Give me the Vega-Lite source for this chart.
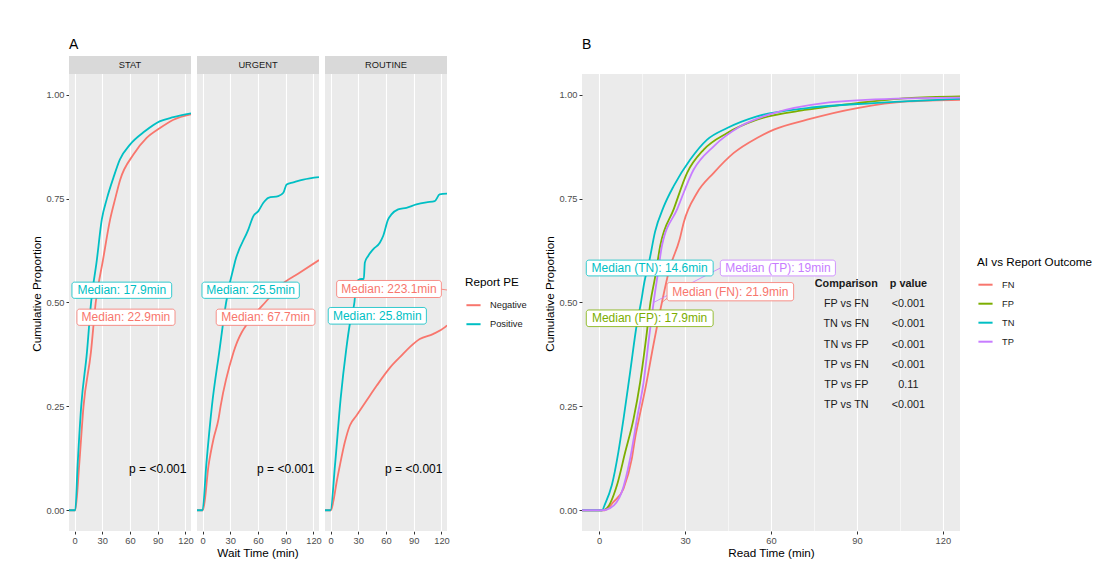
{
"$schema":"https://vega.github.io/schema/vega-lite/v6.json",
"padding":{"left":31,"top":38,"right":5,"bottom":5},
"background":"white",
"config":{
 "font":"Liberation Sans",
 "view":{"fill":"#EBEBEB","stroke":null},
 "axis":{"domain":false,"gridColor":"#FFFFFF","labelColor":"#4D4D4D","labelFontSize":9.3,"tickColor":"#333333","tickSize":3,"tickWidth":1,"labelPadding":2,"titleFontSize":11.7,"titleFontWeight":"normal","titleColor":"#000000","titlePadding":3,"labelOverlap":false},
 "axisX":{"titlePadding":2,"labelOverlap":false},
 "legend":{"symbolType":"stroke","symbolStrokeWidth":2,"symbolSize":200,"titleFontSize":11.7,"titleFontWeight":"normal","titleColor":"#000000","labelFontSize":9.3,"labelColor":"#1A1A1A","rowPadding":5,"titlePadding":8,"labelOffset":8,"padding":0},
 "title":{"fontSize":14,"fontWeight":"normal","color":"#000000"}
},
"datasets":{
 "dataA":[
  {"kind":"s","f":"STAT"},{"kind":"s","f":"URGENT"},{"kind":"s","f":"ROUTINE"},
  {"kind":"e","f":"STAT","g":"Negative","t":-6,"p":0},{"kind":"e","f":"STAT","g":"Negative","t":0.8,"p":0},{"kind":"e","f":"STAT","g":"Negative","t":5,"p":0.108},{"kind":"e","f":"STAT","g":"Negative","t":9.7,"p":0.25},{"kind":"e","f":"STAT","g":"Negative","t":17.7,"p":0.38},{"kind":"e","f":"STAT","g":"Negative","t":22.9,"p":0.5},{"kind":"e","f":"STAT","g":"Negative","t":30.6,"p":0.6},{"kind":"e","f":"STAT","g":"Negative","t":38.5,"p":0.7},{"kind":"e","f":"STAT","g":"Negative","t":44,"p":0.75},{"kind":"e","f":"STAT","g":"Negative","t":49.3,"p":0.795},{"kind":"e","f":"STAT","g":"Negative","t":63.7,"p":0.856},{"kind":"e","f":"STAT","g":"Negative","t":78,"p":0.896},{"kind":"e","f":"STAT","g":"Negative","t":92.5,"p":0.92},{"kind":"e","f":"STAT","g":"Negative","t":107,"p":0.94},{"kind":"e","f":"STAT","g":"Negative","t":126,"p":0.953},
  {"kind":"e","f":"STAT","g":"Positive","t":-6,"p":0},{"kind":"e","f":"STAT","g":"Positive","t":0.8,"p":0},{"kind":"e","f":"STAT","g":"Positive","t":3.3,"p":0.108},{"kind":"e","f":"STAT","g":"Positive","t":7.2,"p":0.25},{"kind":"e","f":"STAT","g":"Positive","t":13.4,"p":0.38},{"kind":"e","f":"STAT","g":"Positive","t":17.9,"p":0.5},{"kind":"e","f":"STAT","g":"Positive","t":24,"p":0.6},{"kind":"e","f":"STAT","g":"Positive","t":29.5,"p":0.7},{"kind":"e","f":"STAT","g":"Positive","t":35,"p":0.75},{"kind":"e","f":"STAT","g":"Positive","t":42,"p":0.8},{"kind":"e","f":"STAT","g":"Positive","t":49,"p":0.844},{"kind":"e","f":"STAT","g":"Positive","t":60,"p":0.88},{"kind":"e","f":"STAT","g":"Positive","t":76,"p":0.912},{"kind":"e","f":"STAT","g":"Positive","t":92,"p":0.936},{"kind":"e","f":"STAT","g":"Positive","t":107,"p":0.946},{"kind":"e","f":"STAT","g":"Positive","t":126,"p":0.955},
  {"kind":"e","f":"URGENT","g":"Negative","t":-6,"p":0},{"kind":"e","f":"URGENT","g":"Negative","t":0.5,"p":0},{"kind":"e","f":"URGENT","g":"Negative","t":6.5,"p":0.108},{"kind":"e","f":"URGENT","g":"Negative","t":11.9,"p":0.172},{"kind":"e","f":"URGENT","g":"Negative","t":17.3,"p":0.22},{"kind":"e","f":"URGENT","g":"Negative","t":19.5,"p":0.25},{"kind":"e","f":"URGENT","g":"Negative","t":33.5,"p":0.38},{"kind":"e","f":"URGENT","g":"Negative","t":55,"p":0.468},{"kind":"e","f":"URGENT","g":"Negative","t":67.7,"p":0.5},{"kind":"e","f":"URGENT","g":"Negative","t":83.8,"p":0.54},{"kind":"e","f":"URGENT","g":"Negative","t":105.4,"p":0.572},{"kind":"e","f":"URGENT","g":"Negative","t":126,"p":0.602},
  {"kind":"e","f":"URGENT","g":"Positive","t":-6,"p":0},{"kind":"e","f":"URGENT","g":"Positive","t":0,"p":0},{"kind":"e","f":"URGENT","g":"Positive","t":4,"p":0.108},{"kind":"e","f":"URGENT","g":"Positive","t":10.1,"p":0.25},{"kind":"e","f":"URGENT","g":"Positive","t":18,"p":0.38},{"kind":"e","f":"URGENT","g":"Positive","t":25.5,"p":0.5},{"kind":"e","f":"URGENT","g":"Positive","t":35.3,"p":0.6},{"kind":"e","f":"URGENT","g":"Positive","t":49.6,"p":0.676},{"kind":"e","f":"URGENT","g":"Positive","t":55,"p":0.708},{"kind":"e","f":"URGENT","g":"Positive","t":60.4,"p":0.72},{"kind":"e","f":"URGENT","g":"Positive","t":65.8,"p":0.74},{"kind":"e","f":"URGENT","g":"Positive","t":71.2,"p":0.752},{"kind":"e","f":"URGENT","g":"Positive","t":82,"p":0.756},{"kind":"e","f":"URGENT","g":"Positive","t":87.4,"p":0.764},{"kind":"e","f":"URGENT","g":"Positive","t":91,"p":0.784},{"kind":"e","f":"URGENT","g":"Positive","t":98.2,"p":0.789},{"kind":"e","f":"URGENT","g":"Positive","t":109,"p":0.796},{"kind":"e","f":"URGENT","g":"Positive","t":126,"p":0.802},
  {"kind":"e","f":"ROUTINE","g":"Negative","t":-6,"p":0},{"kind":"e","f":"ROUTINE","g":"Negative","t":0.5,"p":0},{"kind":"e","f":"ROUTINE","g":"Negative","t":2.9,"p":0.02},{"kind":"e","f":"ROUTINE","g":"Negative","t":6.6,"p":0.068},{"kind":"e","f":"ROUTINE","g":"Negative","t":10.1,"p":0.108},{"kind":"e","f":"ROUTINE","g":"Negative","t":15.5,"p":0.164},{"kind":"e","f":"ROUTINE","g":"Negative","t":20.9,"p":0.204},{"kind":"e","f":"ROUTINE","g":"Negative","t":28.1,"p":0.228},{"kind":"e","f":"ROUTINE","g":"Negative","t":39,"p":0.264},{"kind":"e","f":"ROUTINE","g":"Negative","t":50,"p":0.3},{"kind":"e","f":"ROUTINE","g":"Negative","t":65,"p":0.345},{"kind":"e","f":"ROUTINE","g":"Negative","t":78,"p":0.375},{"kind":"e","f":"ROUTINE","g":"Negative","t":86,"p":0.393},{"kind":"e","f":"ROUTINE","g":"Negative","t":96.5,"p":0.412},{"kind":"e","f":"ROUTINE","g":"Negative","t":110.8,"p":0.424},{"kind":"e","f":"ROUTINE","g":"Negative","t":123.5,"p":0.44},{"kind":"e","f":"ROUTINE","g":"Negative","t":126,"p":0.445},
  {"kind":"e","f":"ROUTINE","g":"Positive","t":-6,"p":0},{"kind":"e","f":"ROUTINE","g":"Positive","t":0,"p":0},{"kind":"e","f":"ROUTINE","g":"Positive","t":4.8,"p":0.108},{"kind":"e","f":"ROUTINE","g":"Positive","t":10.9,"p":0.268},{"kind":"e","f":"ROUTINE","g":"Positive","t":17,"p":0.388},{"kind":"e","f":"ROUTINE","g":"Positive","t":21,"p":0.45},{"kind":"e","f":"ROUTINE","g":"Positive","t":25.8,"p":0.5},{"kind":"e","f":"ROUTINE","g":"Positive","t":28,"p":0.548},{"kind":"e","f":"ROUTINE","g":"Positive","t":31.7,"p":0.556},{"kind":"e","f":"ROUTINE","g":"Positive","t":36,"p":0.557},{"kind":"e","f":"ROUTINE","g":"Positive","t":37.1,"p":0.596},{"kind":"e","f":"ROUTINE","g":"Positive","t":40.7,"p":0.612},{"kind":"e","f":"ROUTINE","g":"Positive","t":46.1,"p":0.628},{"kind":"e","f":"ROUTINE","g":"Positive","t":53.3,"p":0.644},{"kind":"e","f":"ROUTINE","g":"Positive","t":56.9,"p":0.66},{"kind":"e","f":"ROUTINE","g":"Positive","t":62.3,"p":0.7},{"kind":"e","f":"ROUTINE","g":"Positive","t":65.9,"p":0.712},{"kind":"e","f":"ROUTINE","g":"Positive","t":73.1,"p":0.724},{"kind":"e","f":"ROUTINE","g":"Positive","t":82.1,"p":0.728},{"kind":"e","f":"ROUTINE","g":"Positive","t":92.9,"p":0.736},{"kind":"e","f":"ROUTINE","g":"Positive","t":103.7,"p":0.741},{"kind":"e","f":"ROUTINE","g":"Positive","t":112.7,"p":0.744},{"kind":"e","f":"ROUTINE","g":"Positive","t":118,"p":0.76},{"kind":"e","f":"ROUTINE","g":"Positive","t":126,"p":0.762},
  {"kind":"l","f":"STAT","g":"Positive","label":"Median: 17.9min","x1":-2.8,"x2":105.1,"y1":0.51,"y2":0.549,"xc":51.1,"yc":0.53},
  {"kind":"l","f":"STAT","g":"Negative","label":"Median: 22.9min","x1":2.6,"x2":108.7,"y1":0.445,"y2":0.484,"xc":55.6,"yc":0.464},
  {"kind":"l","f":"URGENT","g":"Positive","label":"Median: 25.5min","x1":-0.6,"x2":104.7,"y1":0.51,"y2":0.549,"xc":52,"yc":0.53},
  {"kind":"l","f":"URGENT","g":"Negative","label":"Median: 67.7min","x1":14.8,"x2":121.6,"y1":0.445,"y2":0.484,"xc":68.2,"yc":0.464},
  {"kind":"l","f":"ROUTINE","g":"Negative","label":"Median: 223.1min","x1":6.6,"x2":119.9,"y1":0.512,"y2":0.553,"xc":63.2,"yc":0.533},
  {"kind":"l","f":"ROUTINE","g":"Positive","label":"Median: 25.8min","x1":-2.5,"x2":103.7,"y1":0.448,"y2":0.488,"xc":50.6,"yc":0.468},
  {"kind":"g","f":"ROUTINE","g":"Negative","x1":119.9,"y1":0.532,"x2":223.1,"y2":0.5},
  {"kind":"p","f":"STAT","label":"p = <0.001","xc":90,"yc":0.1},
  {"kind":"p","f":"URGENT","label":"p = <0.001","xc":90,"yc":0.1},
  {"kind":"p","f":"ROUTINE","label":"p = <0.001","xc":90,"yc":0.1}
 ],
 "ecdfB":[
  {"g":"FN","t":-6,"p":0},{"g":"FN","t":2,"p":0},{"g":"FN","t":5,"p":0.02},{"g":"FN","t":8.5,"p":0.052},{"g":"FN","t":11.4,"p":0.124},{"g":"FN","t":12.5,"p":0.172},{"g":"FN","t":13.9,"p":0.22},{"g":"FN","t":16.1,"p":0.292},{"g":"FN","t":19,"p":0.4},{"g":"FN","t":21.9,"p":0.5},{"g":"FN","t":24.5,"p":0.58},{"g":"FN","t":28.1,"p":0.652},{"g":"FN","t":29.5,"p":0.692},{"g":"FN","t":34.2,"p":0.764},{"g":"FN","t":40,"p":0.812},{"g":"FN","t":47,"p":0.86},{"g":"FN","t":55.1,"p":0.896},{"g":"FN","t":61,"p":0.916},{"g":"FN","t":72.6,"p":0.94},{"g":"FN","t":90.1,"p":0.968},{"g":"FN","t":107.6,"p":0.984},{"g":"FN","t":126,"p":0.988},
  {"g":"FP","t":-6,"p":0},{"g":"FP","t":1,"p":0},{"g":"FP","t":2.7,"p":0.005},{"g":"FP","t":6.2,"p":0.06},{"g":"FP","t":9.1,"p":0.14},{"g":"FP","t":12,"p":0.22},{"g":"FP","t":14.3,"p":0.308},{"g":"FP","t":16.5,"p":0.42},{"g":"FP","t":17.9,"p":0.5},{"g":"FP","t":19.5,"p":0.56},{"g":"FP","t":21.3,"p":0.636},{"g":"FP","t":26,"p":0.724},{"g":"FP","t":30.7,"p":0.812},{"g":"FP","t":36.5,"p":0.868},{"g":"FP","t":44.7,"p":0.908},{"g":"FP","t":55.1,"p":0.94},{"g":"FP","t":72.6,"p":0.964},{"g":"FP","t":90.1,"p":0.98},{"g":"FP","t":107.6,"p":0.992},{"g":"FP","t":126,"p":0.996},
  {"g":"TN","t":-6,"p":0},{"g":"TN","t":1,"p":0},{"g":"TN","t":2.1,"p":0.016},{"g":"TN","t":4.4,"p":0.06},{"g":"TN","t":6.7,"p":0.14},{"g":"TN","t":8.5,"p":0.22},{"g":"TN","t":10.8,"p":0.332},{"g":"TN","t":13.2,"p":0.45},{"g":"TN","t":14.6,"p":0.5},{"g":"TN","t":15.8,"p":0.55},{"g":"TN","t":17.5,"p":0.6},{"g":"TN","t":19.5,"p":0.67},{"g":"TN","t":22.5,"p":0.73},{"g":"TN","t":26,"p":0.78},{"g":"TN","t":31.8,"p":0.844},{"g":"TN","t":37.7,"p":0.892},{"g":"TN","t":44.7,"p":0.92},{"g":"TN","t":55.1,"p":0.948},{"g":"TN","t":72.6,"p":0.968},{"g":"TN","t":95.9,"p":0.98},{"g":"TN","t":126,"p":0.99},
  {"g":"TP","t":-6,"p":0},{"g":"TP","t":1,"p":0},{"g":"TP","t":3.8,"p":0.005},{"g":"TP","t":7.9,"p":0.044},{"g":"TP","t":10.8,"p":0.124},{"g":"TP","t":13.2,"p":0.22},{"g":"TP","t":15.5,"p":0.308},{"g":"TP","t":17.5,"p":0.42},{"g":"TP","t":19,"p":0.5},{"g":"TP","t":20.5,"p":0.57},{"g":"TP","t":21.9,"p":0.636},{"g":"TP","t":27.2,"p":0.724},{"g":"TP","t":33,"p":0.82},{"g":"TP","t":40,"p":0.876},{"g":"TP","t":49.3,"p":0.924},{"g":"TP","t":61,"p":0.956},{"g":"TP","t":78.4,"p":0.98},{"g":"TP","t":101.7,"p":0.99},{"g":"TP","t":126,"p":0.993}
 ],
 "labB":[
  {"g":"TN","label":"Median (TN): 14.6min","x1":-4.5,"x2":39.8,"y1":0.564,"y2":0.602,"xc":17.6,"yc":0.583},
  {"g":"TP","label":"Median (TP): 19min","x1":42.3,"x2":82.5,"y1":0.564,"y2":0.602,"xc":62.4,"yc":0.583},
  {"g":"FN","label":"Median (FN): 21.9min","x1":23.7,"x2":67.9,"y1":0.504,"y2":0.548,"xc":45.8,"yc":0.526},
  {"g":"FP","label":"Median (FP): 17.9min","x1":-4.5,"x2":39.8,"y1":0.442,"y2":0.482,"xc":17.6,"yc":0.462}
 ],
 "segB":[
  {"g":"TP","x1":42.3,"y1":0.583,"x2":19,"y2":0.5},
  {"g":"FN","x1":23.7,"y1":0.51,"x2":21.9,"y2":0.5}
 ],
 "tabHead":[
  {"t":"Comparison","x":86.3,"y":0.544},
  {"t":"p value","x":108,"y":0.544}
 ],
 "tabBody":[
  {"t":"FP vs FN","x":86.3,"y":0.496},{"t":"<0.001","x":108,"y":0.496},
  {"t":"TN vs FN","x":86.3,"y":0.448},{"t":"<0.001","x":108,"y":0.448},
  {"t":"TN vs FP","x":86.3,"y":0.397},{"t":"<0.001","x":108,"y":0.397},
  {"t":"TP vs FN","x":86.3,"y":0.349},{"t":"<0.001","x":108,"y":0.349},
  {"t":"TP vs FP","x":86.3,"y":0.301},{"t":"0.11","x":108,"y":0.301},
  {"t":"TP vs TN","x":86.3,"y":0.253},{"t":"<0.001","x":108,"y":0.253}
 ]
},
"hconcat":[
 {
  "title":{"text":"A","anchor":"start","frame":"group","offset":4},
  "data":{"name":"dataA"},
  "facet":{"column":{"field":"f","type":"nominal","sort":["STAT","URGENT","ROUTINE"],"header":{"labels":false,"title":"Wait Time (min)","titleOrient":"bottom","titleFontSize":11.7,"titleFontWeight":"normal","titleColor":"#000000","titlePadding":-8,"labelPadding":0}}},
  "spacing":6,
  "spec":{
   "width":122,"height":475,
   "resolve":{"axis":{"x":"independent"}},
   "layer":[
    {"transform":[{"filter":"datum.kind=='s'"}],"mark":{"type":"rect","fill":"#D9D9D9"},
     "encoding":{"y":{"datum":1.05,"type":"quantitative","scale":{"domain":[-0.05,1.0933],"nice":false,"zero":false}},"y2":{"datum":1.0933}}},
    {"transform":[{"filter":"datum.kind=='s'"}],"mark":{"type":"text","fontSize":9.3,"color":"#1A1A1A"},
     "encoding":{"y":{"datum":1.0717,"type":"quantitative","scale":{"domain":[-0.05,1.0933],"nice":false,"zero":false}},"text":{"field":"f"}}},
    {"transform":[{"filter":"datum.kind=='e'"}],"mark":{"type":"line","strokeWidth":1.8,"clip":true,"interpolate":"monotone"},
     "encoding":{
      "x":{"field":"t","type":"quantitative","scale":{"domain":[-6,126],"nice":false,"zero":false},"axis":{"orient":"bottom","title":null,"values":[0,30,60,90,120],"labelOverlap":false,"labelFlush":false,"gridWidth":1.1}},
      "y":{"field":"p","type":"quantitative","scale":{"domain":[-0.05,1.0933],"nice":false,"zero":false},"axis":{"title":"Cumulative Proportion","values":[0,0.125,0.25,0.375,0.5,0.625,0.75,0.875,1],"labelExpr":"round(datum.value*8) % 2 == 0 ? format(datum.value, '.2f') : ''","labelOverlap":false,"tickOpacity":{"condition":{"test":"round(datum.value*8) % 2 == 0","value":1},"value":0},"gridWidth":{"condition":{"test":"round(datum.value*8) % 2 == 0","value":1.1},"value":0.55}}},
      "color":{"field":"g","type":"nominal","scale":{"domain":["Negative","Positive"],"range":["#F8766D","#00BFC4"]},"legend":{"orient":"none","legendX":396,"legendY":221,"title":"Report PE"}}}},
    {"transform":[{"filter":"datum.kind=='g'"}],"mark":{"type":"rule","strokeWidth":0.8,"clip":true},
     "encoding":{"x":{"field":"x1","type":"quantitative","scale":{"domain":[-6,126],"nice":false,"zero":false},"axis":{"orient":"bottom","title":null,"values":[15,45,75,105],"labels":false,"ticks":false,"domain":false,"gridWidth":0.55}},"x2":{"field":"x2"},"y":{"field":"y1","type":"quantitative","scale":{"domain":[-0.05,1.0933],"nice":false,"zero":false}},"y2":{"field":"y2"},
      "stroke":{"field":"g","type":"nominal","scale":{"domain":["Negative","Positive"],"range":["#F8766D","#00BFC4"]},"legend":null}}},
    {"transform":[{"filter":"datum.kind=='l'"}],"mark":{"type":"rect","fill":"white","strokeWidth":0.8,"cornerRadius":2.5},
     "encoding":{"x":{"field":"x1","type":"quantitative","scale":{"domain":[-6,126],"nice":false,"zero":false},"axis":{"orient":"bottom","title":null,"values":[15,45,75,105],"labels":false,"ticks":false,"domain":false,"gridWidth":0.55}},"x2":{"field":"x2"},"y":{"field":"y1","type":"quantitative","scale":{"domain":[-0.05,1.0933],"nice":false,"zero":false}},"y2":{"field":"y2"},
      "stroke":{"field":"g","type":"nominal","scale":{"domain":["Negative","Positive"],"range":["#F8766D","#00BFC4"]},"legend":null}}},
    {"transform":[{"filter":"datum.kind=='l'"}],"mark":{"type":"text","fontSize":12},
     "encoding":{"x":{"field":"xc","type":"quantitative","scale":{"domain":[-6,126],"nice":false,"zero":false},"axis":null},"y":{"field":"yc","type":"quantitative","scale":{"domain":[-0.05,1.0933],"nice":false,"zero":false}},"text":{"field":"label"},
      "fill":{"field":"g","type":"nominal","scale":{"domain":["Negative","Positive"],"range":["#F8766D","#00BFC4"]},"legend":null}}},
    {"transform":[{"filter":"datum.kind=='p'"}],"mark":{"type":"text","fontSize":12,"color":"#000000"},
     "encoding":{"x":{"field":"xc","type":"quantitative","scale":{"domain":[-6,126],"nice":false,"zero":false},"axis":null},"y":{"field":"yc","type":"quantitative","scale":{"domain":[-0.05,1.0933],"nice":false,"zero":false}},"text":{"field":"label"}}}
   ]
  }
 },
 {
  "title":{"text":"B","anchor":"start","frame":"group","offset":4},
  "width":378,"height":475,
  "layer":[
   {"data":{"values":[{"s":"blank"}]},"mark":{"type":"rect","fill":"white"},
    "encoding":{"y":{"datum":1.05,"type":"quantitative","scale":{"domain":[-0.05,1.0933],"nice":false,"zero":false}},"y2":{"datum":1.0933}}},
   {"data":{"name":"ecdfB"},"mark":{"type":"line","strokeWidth":1.8,"clip":true,"interpolate":"monotone"},
    "encoding":{
     "x":{"field":"t","type":"quantitative","scale":{"domain":[-6,126],"nice":false,"zero":false},"axis":{"title":"Read Time (min)","values":[0,15,30,45,60,75,90,105,120],"labelExpr":"datum.value % 30 == 0 ? datum.label : ''","labelOverlap":false,"labelFlush":false,"tickOpacity":{"condition":{"test":"datum.value % 30 == 0","value":1},"value":0},"gridWidth":{"condition":{"test":"datum.value % 30 == 0","value":1.1},"value":0.55}}},
     "y":{"field":"p","type":"quantitative","scale":{"domain":[-0.05,1.0933],"nice":false,"zero":false},"axis":{"title":"Cumulative Proportion","values":[0,0.125,0.25,0.375,0.5,0.625,0.75,0.875,1],"labelExpr":"round(datum.value*8) % 2 == 0 ? format(datum.value, '.2f') : ''","labelOverlap":false,"tickOpacity":{"condition":{"test":"round(datum.value*8) % 2 == 0","value":1},"value":0},"gridWidth":{"condition":{"test":"round(datum.value*8) % 2 == 0","value":1.1},"value":0.55}}},
     "color":{"field":"g","type":"nominal","scale":{"domain":["FN","FP","TN","TP"],"range":["#F8766D","#7CAE00","#00BFC4","#C77CFF"]},"legend":{"orient":"none","legendX":395,"legendY":200.5,"title":"AI vs Report Outcome"}}}},
   {"data":{"name":"segB"},"mark":{"type":"rule","strokeWidth":0.8,"clip":true},
    "encoding":{"x":{"field":"x1","type":"quantitative","scale":{"domain":[-6,126],"nice":false,"zero":false}},"x2":{"field":"x2"},"y":{"field":"y1","type":"quantitative","scale":{"domain":[-0.05,1.0933],"nice":false,"zero":false}},"y2":{"field":"y2"},
     "stroke":{"field":"g","type":"nominal","scale":{"domain":["FN","FP","TN","TP"],"range":["#F8766D","#7CAE00","#00BFC4","#C77CFF"]},"legend":null}}},
   {"data":{"name":"labB"},"mark":{"type":"rect","fill":"white","strokeWidth":0.8,"cornerRadius":2.5},
    "encoding":{"x":{"field":"x1","type":"quantitative","scale":{"domain":[-6,126],"nice":false,"zero":false}},"x2":{"field":"x2"},"y":{"field":"y1","type":"quantitative","scale":{"domain":[-0.05,1.0933],"nice":false,"zero":false}},"y2":{"field":"y2"},
     "stroke":{"field":"g","type":"nominal","scale":{"domain":["FN","FP","TN","TP"],"range":["#F8766D","#7CAE00","#00BFC4","#C77CFF"]},"legend":null}}},
   {"data":{"name":"labB"},"mark":{"type":"text","fontSize":12},
    "encoding":{"x":{"field":"xc","type":"quantitative","scale":{"domain":[-6,126],"nice":false,"zero":false}},"y":{"field":"yc","type":"quantitative","scale":{"domain":[-0.05,1.0933],"nice":false,"zero":false}},"text":{"field":"label"},
     "fill":{"field":"g","type":"nominal","scale":{"domain":["FN","FP","TN","TP"],"range":["#F8766D","#7CAE00","#00BFC4","#C77CFF"]},"legend":null}}},
   {"data":{"name":"tabHead"},"mark":{"type":"text","fontSize":10.8,"fontWeight":"bold","color":"#1A1A1A"},
    "encoding":{"x":{"field":"x","type":"quantitative","scale":{"domain":[-6,126],"nice":false,"zero":false}},"y":{"field":"y","type":"quantitative","scale":{"domain":[-0.05,1.0933],"nice":false,"zero":false}},"text":{"field":"t"}}},
   {"data":{"name":"tabBody"},"mark":{"type":"text","fontSize":10.8,"color":"#1A1A1A"},
    "encoding":{"x":{"field":"x","type":"quantitative","scale":{"domain":[-6,126],"nice":false,"zero":false}},"y":{"field":"y","type":"quantitative","scale":{"domain":[-0.05,1.0933],"nice":false,"zero":false}},"text":{"field":"t"}}}
  ]
 }
],
"spacing":17,
"resolve":{"scale":{"color":"independent","fill":"independent","stroke":"independent"}}
}
